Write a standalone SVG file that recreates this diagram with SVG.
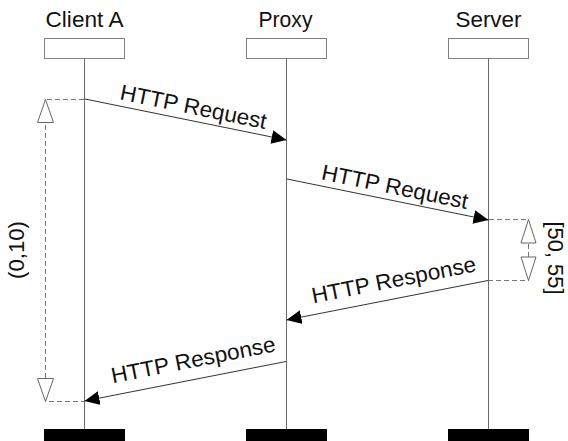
<svg xmlns="http://www.w3.org/2000/svg" width="568" height="441" viewBox="0 0 568 441">
<style>
text{font-family:"Liberation Sans",Arial,sans-serif;font-size:22px;fill:#111}
.box{fill:#fff;stroke:#808080;stroke-width:1}
.life{stroke:#6a6a6a;stroke-width:1}
.foot{fill:#000}
.msg{stroke:#333;stroke-width:1;fill:none}
.dash{stroke:#777;stroke-width:1;stroke-dasharray:5,3;fill:none}
.tri{fill:#fff;stroke:#666;stroke-width:1}
</style>
<defs>
<marker id="arr" markerUnits="userSpaceOnUse" markerWidth="16" markerHeight="16" refX="15" refY="7" orient="auto">
<path d="M0,0 L15,7 L0,14 z" fill="#000"/>
</marker>
</defs>
<rect width="568" height="441" fill="#fff"/>
<g id="client">
<text x="84.5" y="27" text-anchor="middle" textLength="78" lengthAdjust="spacingAndGlyphs">Client A</text>
<rect class="box" x="44.5" y="38.5" width="80" height="20"/>
<line class="life" x1="84.5" y1="58.5" x2="84.5" y2="429"/>
<rect class="foot" x="44" y="429" width="81" height="12"/>
</g>
<g id="proxy">
<text x="285.5" y="27" text-anchor="middle" textLength="54" lengthAdjust="spacingAndGlyphs">Proxy</text>
<rect class="box" x="246.5" y="38.5" width="80" height="20"/>
<line class="life" x1="286.5" y1="58.5" x2="286.5" y2="429"/>
<rect class="foot" x="246" y="429" width="81" height="12"/>
</g>
<g id="server">
<text x="488.5" y="27" text-anchor="middle" textLength="66" lengthAdjust="spacingAndGlyphs">Server</text>
<rect class="box" x="448.5" y="38.5" width="80" height="20"/>
<line class="life" x1="488.5" y1="58.5" x2="488.5" y2="429"/>
<rect class="foot" x="448" y="429" width="81" height="12"/>
</g>
<g id="connectors">
<line class="msg" x1="85" y1="99" x2="286.5" y2="140" marker-end="url(#arr)"/>
<text transform="translate(192,114.2) rotate(11.5)" text-anchor="middle" textLength="149" lengthAdjust="spacingAndGlyphs">HTTP Request</text>
<line class="msg" x1="287" y1="179" x2="488.5" y2="220" marker-end="url(#arr)"/>
<text transform="translate(393.5,194.2) rotate(11.5)" text-anchor="middle" textLength="149" lengthAdjust="spacingAndGlyphs">HTTP Request</text>
<line class="msg" x1="488" y1="280.5" x2="286.5" y2="320" marker-end="url(#arr)"/>
<text transform="translate(395.2,287.2) rotate(-11.1)" text-anchor="middle" textLength="167" lengthAdjust="spacingAndGlyphs">HTTP Response</text>
<line class="msg" x1="286" y1="361.5" x2="84.5" y2="401" marker-end="url(#arr)"/>
<text transform="translate(194.6,367.2) rotate(-11.1)" text-anchor="middle" textLength="167" lengthAdjust="spacingAndGlyphs">HTTP Response</text>
</g>
<g id="client-interval">
<polyline class="dash" points="84,99.5 45.5,99.5 45.5,401.5 84,401.5"/>
<polygon class="tri" points="45.5,99.5 53.5,122.5 37.5,122.5"/>
<polygon class="tri" points="45.5,401.5 53.5,378.5 37.5,378.5"/>
<text transform="translate(24,250) rotate(-90)" text-anchor="middle" textLength="58" lengthAdjust="spacingAndGlyphs">(0,10)</text>
</g>
<g id="server-interval">
<polyline class="dash" points="489,219.5 528.5,219.5 528.5,280.5 489,280.5"/>
<polygon class="tri" points="528.5,219.5 536,243 521,243"/>
<polygon class="tri" points="528.5,280.5 536,257 521,257"/>
<text transform="translate(547.5,258) rotate(90)" text-anchor="middle" textLength="73" lengthAdjust="spacingAndGlyphs">[50, 55]</text>
</g>
</svg>
